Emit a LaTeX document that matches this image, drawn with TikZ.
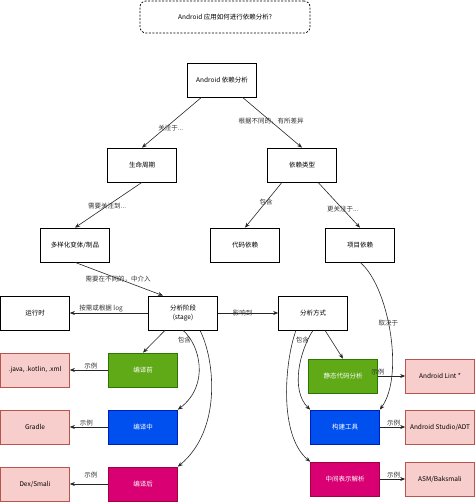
\documentclass[tikz,border=0pt]{standalone}
\usepackage{fontspec}
\setmainfont{Noto Sans CJK SC}
\usetikzlibrary{arrows.meta}

\definecolor{pinkfill}{HTML}{F8CECC}
\definecolor{pinkline}{HTML}{B85450}
\definecolor{greenfill}{HTML}{60A917}
\definecolor{greenline}{HTML}{2D7600}
\definecolor{bluefill}{HTML}{0050EF}
\definecolor{blueline}{HTML}{001DBC}
\definecolor{magfill}{HTML}{D80073}
\definecolor{magline}{HTML}{A50040}
\definecolor{labeltext}{HTML}{333333}

\tikzset{
  box/.style={rectangle,draw,line width=0.7pt,minimum width=69pt,minimum height=34pt,inner sep=1pt,align=center,font=\fontsize{6.5}{9}\selectfont},
  pinkbox/.style={box,fill=pinkfill,draw=pinkline},
  greenbox/.style={box,fill=greenfill,draw=greenline,text=white},
  bluebox/.style={box,fill=bluefill,draw=blueline,text=white},
  magbox/.style={box,fill=magfill,draw=magline,text=white},
  arr/.style={-{Stealth[length=5pt,width=4pt]},line width=0.6pt,black!85},
  lbl/.style={font=\fontsize{6.5}{8}\selectfont,text=labeltext,inner sep=1pt}
}

\begin{document}
\begin{tikzpicture}[x=1pt,y=-1pt]
\useasboundingbox (0,0) rectangle (474,502);

\node[box,rounded corners=6pt,dash pattern=on 2pt off 1.5pt,minimum width=170pt,minimum height=32pt] (question) at (225,17){Android 应用如何进行依赖分析?};

\node[box] (root) at (222,80){Android 依赖分析};
\node[box] (life) at (142,165){生命周期};
\node[box] (type) at (302,165){依赖类型};
\node[box] (variant) at (75,245){多样化变体/制品};
\node[box] (code) at (245,245){代码依赖};
\node[box] (proj) at (360,245){项目依赖};
\node[box] (runtime) at (35,313){运行时};
\node[box] (stage) at (183,313){分析阶段\\(stage)};
\node[box] (method) at (313,313){分析方式};

\node[pinkbox] (src) at (35,370){.java, .kotlin, .xml};
\node[greenbox] (before) at (143,370){编译前};
\node[pinkbox] (gradle) at (35,427){Gradle};
\node[bluebox] (during) at (143,427){编译中};
\node[pinkbox] (dex) at (35,484){Dex/Smali};
\node[magbox] (after) at (143,484){编译后};

\node[greenbox] (static) at (343,376){静态代码分析};
\node[bluebox] (build) at (345,427){构建工具};
\node[magbox] (ir) at (345,479){中间表示解析};
\node[pinkbox] (lint) at (440,376){Android Lint *};
\node[pinkbox] (studio) at (440,427){Android Studio/ADT};
\node[pinkbox] (asm) at (440,479){ASM/Baksmali};

\draw [arr] (root) -- (life.north) node[lbl,pos=0.6,xshift=5pt]{关注于...};
\draw [arr] (root) -- (type.north) node[lbl,pos=0.48]{根据不同的，有所差异};
\draw [arr] (life.south) -- (variant.north) node[lbl,pos=0.52]{需要关注到...};
\draw [arr] ([xshift=-20pt]type.south) -- (code.north) node[lbl,pos=0.43]{包含};
\draw [arr] ([xshift=16pt]type.south) -- (proj.north) node[lbl,pos=0.59]{更关注于...};
\draw [arr] (variant.south) -- ([xshift=-20pt]stage.north) node[lbl,pos=0.49]{需要在不同的，中介入};
\draw [arr] (stage) -- (runtime) node[lbl,pos=0.6,above]{按需或根据 log};
\draw [arr] (stage) -- (method) node[lbl,pos=0.41]{影响到};

% stage -> before / during / after
\draw [arr] ([xshift=-18pt]stage.south) -- (before.north);
\draw [arr] (stage.south) .. controls (200,345) and (210,385) .. (during.north east) node[lbl,pos=0.18,xshift=-7pt]{包含};
\draw [arr] ([xshift=17pt]stage.south) .. controls (215,360) and (222,430) .. (after.north east);

% method -> static / build / ir
\draw [arr] ([xshift=12pt]method.south) -- (static.north);
\draw [arr] (method.south) .. controls (300,350) and (290,390) .. (build.north west) node[lbl,pos=0.15,xshift=-5pt]{包含};
\draw [arr] ([xshift=-17pt]method.south) .. controls (285,360) and (278,435) .. (ir.north west);
\draw [arr] (proj.south) .. controls (388,285) and (405,375) .. (build.north east) node[lbl,pos=0.45]{取决于};

% examples
\draw [arr] (before) -- (src) node[lbl,pos=0.45,above]{示例};
\draw [arr] (during) -- (gradle) node[lbl,pos=0.57,above]{示例};
\draw [arr] (after) -- (dex) node[lbl,pos=0.45,above,yshift=5pt]{示例};
\draw [arr] (static) -- (lint) node[lbl,pos=0,above]{示例};
\draw [arr] (build) -- (studio) node[lbl,pos=0.54,above]{示例};
\draw [arr] (ir) -- (asm) node[lbl,pos=0.54,above]{示例};

\end{tikzpicture}
\end{document}
